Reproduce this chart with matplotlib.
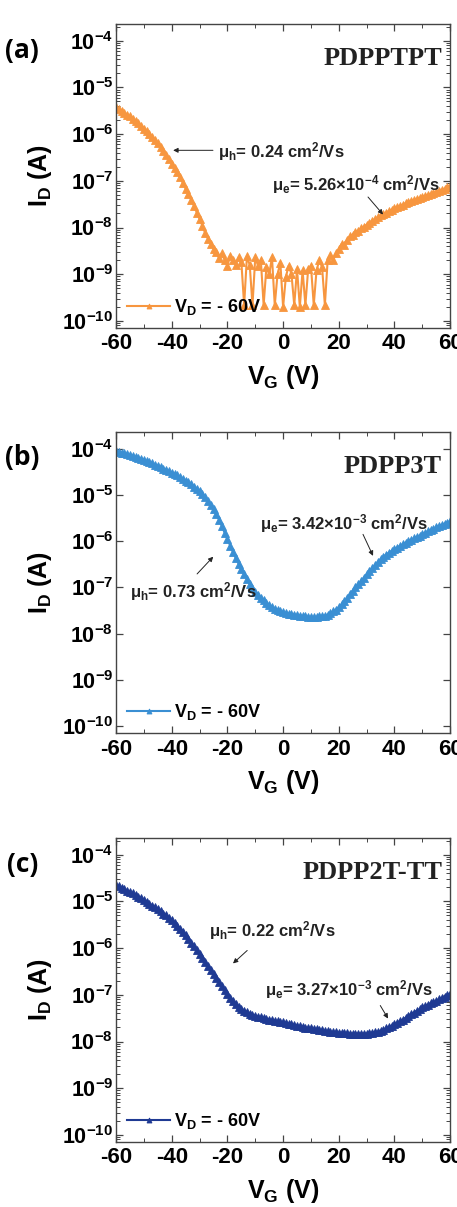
import numpy as np
import matplotlib
matplotlib.use("Agg")
import matplotlib.pyplot as plt
from matplotlib.ticker import LogLocator, MultipleLocator, NullFormatter

plt.rcParams['font.family'] = ['Liberation Sans', 'DejaVu Sans']
plt.rcParams['font.weight'] = 'bold'
plt.rcParams['axes.labelweight'] = 'bold'
plt.rcParams['axes.unicode_minus'] = False
plt.rcParams['mathtext.default'] = 'regular'

# gate voltage sweep, 1 V steps
vg = np.arange(-60, 61, 1)

# log10(I_D / A)
logI_a = [-5.42, -5.47, -5.51, -5.55, -5.59, -5.62, -5.68, -5.72, -5.77, -5.82,
          -5.88, -5.94, -6.00, -6.07, -6.13, -6.20, -6.28, -6.36, -6.44, -6.54,
          -6.63, -6.72, -6.82, -6.92, -7.05, -7.17, -7.28, -7.41, -7.54, -7.68,
          -7.82, -7.96, -8.12, -8.24, -8.35, -8.46, -8.52, -8.66, -8.55, -8.70,
          -8.82, -8.60, -8.70, -8.80, -8.64, -8.74, -9.66, -8.62, -8.80, -9.66,
          -8.64, -8.82, -8.70, -9.66, -8.85, -9.00, -8.64, -9.66, -9.00, -8.75,
          -9.70, -9.05, -8.82, -9.00, -9.66, -8.89, -9.70, -8.92, -9.66, -8.89,
          -8.82, -9.66, -8.92, -8.70, -8.85, -9.66, -8.70, -8.59, -8.70, -8.55,
          -8.46, -8.35, -8.38, -8.26, -8.19, -8.15, -8.10, -8.07, -8.02, -7.98,
          -7.94, -7.90, -7.85, -7.82, -7.78, -7.74, -7.71, -7.68, -7.65, -7.62,
          -7.59, -7.56, -7.54, -7.51, -7.48, -7.46, -7.43, -7.41, -7.39, -7.37,
          -7.34, -7.32, -7.30, -7.28, -7.26, -7.24, -7.21, -7.19, -7.17, -7.14,
          -7.12]

logI_b = [-4.05, -4.07, -4.09, -4.10, -4.12, -4.14, -4.16, -4.18, -4.20, -4.22,
          -4.24, -4.27, -4.29, -4.32, -4.35, -4.37, -4.40, -4.43, -4.46, -4.49,
          -4.52, -4.55, -4.58, -4.62, -4.65, -4.69, -4.73, -4.77, -4.82, -4.87,
          -4.92, -4.98, -5.05, -5.13, -5.22, -5.31, -5.42, -5.54, -5.68, -5.82,
          -5.96, -6.10, -6.24, -6.37, -6.49, -6.60, -6.71, -6.82, -6.92, -7.01,
          -7.10, -7.16, -7.22, -7.28, -7.34, -7.39, -7.43, -7.46, -7.49, -7.52,
          -7.54, -7.56, -7.57, -7.58, -7.59, -7.60, -7.61, -7.62, -7.63, -7.64,
          -7.64, -7.64, -7.64, -7.63, -7.62, -7.61, -7.59, -7.56, -7.52, -7.48,
          -7.43, -7.37, -7.30, -7.23, -7.15, -7.07, -7.00, -6.93, -6.86, -6.79,
          -6.72, -6.65, -6.58, -6.52, -6.45, -6.39, -6.34, -6.29, -6.25, -6.21,
          -6.17, -6.14, -6.10, -6.07, -6.03, -6.00, -5.97, -5.94, -5.91, -5.88,
          -5.85, -5.82, -5.79, -5.76, -5.73, -5.70, -5.67, -5.65, -5.62, -5.60,
          -5.57]

logI_c = [-4.65, -4.68, -4.71, -4.74, -4.77, -4.80, -4.83, -4.87, -4.90, -4.93,
          -4.97, -5.01, -5.05, -5.09, -5.13, -5.17, -5.21, -5.26, -5.30, -5.35,
          -5.40, -5.46, -5.52, -5.58, -5.65, -5.72, -5.80, -5.88, -5.96, -6.04,
          -6.12, -6.21, -6.29, -6.38, -6.46, -6.55, -6.64, -6.72, -6.81, -6.90,
          -6.98, -7.06, -7.13, -7.20, -7.25, -7.30, -7.34, -7.37, -7.40, -7.43,
          -7.45, -7.47, -7.48, -7.50, -7.51, -7.53, -7.54, -7.55, -7.57, -7.58,
          -7.59, -7.60, -7.62, -7.63, -7.64, -7.66, -7.67, -7.68, -7.70, -7.71,
          -7.72, -7.73, -7.74, -7.75, -7.76, -7.77, -7.78, -7.79, -7.80, -7.80,
          -7.81, -7.81, -7.82, -7.82, -7.83, -7.83, -7.83, -7.83, -7.83, -7.83,
          -7.83, -7.82, -7.81, -7.80, -7.79, -7.77, -7.75, -7.72, -7.69, -7.66,
          -7.63, -7.60, -7.56, -7.53, -7.49, -7.45, -7.41, -7.38, -7.34, -7.31,
          -7.27, -7.24, -7.21, -7.18, -7.16, -7.13, -7.10, -7.07, -7.04, -7.00,
          -6.98]

letters = ['(a)', '(b)', '(c)']
polymers = ['PDPPTPT', 'PDPP3T', 'PDPP2T-TT']
colors = ['#F7963F', '#3A8FD3', '#1F3A93']

# mobility labels: (text, text pos, arrow tail, arrow head) in data units
notes_a = [('μ$_h$= 0.24 cm$^2$/Vs', (-23.4, 4.3e-7), (-25.2, 4.5e-7), (-39.5, 4.5e-7)),
           ('μ$_e$= 5.26×10$^{-4}$ cm$^2$/Vs', (-4.0, 8.5e-8), (30.5, 4.5e-8), (35.9, 1.9e-8))]
notes_b = [('μ$_e$= 3.42×10$^{-3}$ cm$^2$/Vs', (-8.3, 2.45e-6), (28.7, 1.4e-6), (32.3, 4.8e-7)),
           ('μ$_h$= 0.73 cm$^2$/Vs', (-55.0, 8.3e-8), (-30.9, 1.95e-7), (-25.1, 4.6e-7))]
notes_c = [('μ$_h$= 0.22 cm$^2$/Vs', (-26.6, 2.4e-6), (-12.9, 8.9e-7), (-18.0, 4.7e-7)),
           ('μ$_e$= 3.27×10$^{-3}$ cm$^2$/Vs', (-6.5, 1.3e-7), (34.9, 5.9e-8), (37.7, 3.1e-8))]

fig = plt.figure(figsize=(4.57, 12.07), dpi=100)
boxes = [[0.254, 0.7283, 0.731, 0.2519],
         [0.254, 0.3927, 0.731, 0.2494],
         [0.254, 0.0539, 0.731, 0.2519]]

for box, logI, col, letter, name, notes in zip(boxes, [logI_a, logI_b, logI_c], colors,
                                                letters, polymers, [notes_a, notes_b, notes_c]):
    ax = fig.add_axes(box)
    ax.semilogy(vg, 10.0 ** np.array(logI), color=col, lw=1.5, marker='^', ms=6,
                mew=0.6, label='V$_D$ = - 60V')
    ax.set_xlim(-60, 60)
    ax.set_ylim(10 ** -10.15, 10 ** -3.64)
    ax.set_xticks([-60, -40, -20, 0, 20, 40, 60])
    ax.xaxis.set_minor_locator(MultipleLocator(10))
    ax.set_yticks([1e-4, 1e-5, 1e-6, 1e-7, 1e-8, 1e-9, 1e-10])
    ax.yaxis.set_minor_locator(LogLocator(base=10, subs=np.arange(2, 10)))
    ax.yaxis.set_minor_formatter(NullFormatter())
    ax.tick_params(which='both', direction='in', top=True, right=True,
                   color='#444444')
    ax.tick_params(axis='x', labelsize=16, pad=4)
    ax.tick_params(axis='y', labelsize=15.5, pad=2)
    ax.tick_params(which='major', length=5, width=0.9)
    ax.tick_params(which='minor', length=3, width=0.7)
    for s in ax.spines.values():
        s.set_color('#444444')
        s.set_linewidth(1.0)
    ax.set_ylabel('I$_D$ (A)', fontsize=18)
    ax.set_xlabel('V$_G$ (V)', fontsize=18)
    ax.yaxis.set_label_coords(-0.185, 0.5)
    ax.xaxis.set_label_coords(0.5, -0.115)

    ax.text(-0.281, 0.914, letter, transform=ax.transAxes, fontsize=19,
            family='Open Sans', fontweight='bold', ha='center', va='center')
    ax.text(0.976, 0.885, name, transform=ax.transAxes, fontsize=19,
            family='Liberation Serif', fontweight='bold', ha='right', va='center',
            color='#222222')
    for txt, pos, tail, head in notes:
        ax.text(pos[0], pos[1], txt, fontsize=12, ha='left', va='center', color='#222222')
        ax.annotate('', xy=head, xytext=tail,
                    arrowprops=dict(arrowstyle='-|>', color='#222222', lw=0.7,
                                    mutation_scale=7, shrinkA=0, shrinkB=0))
    ax.legend(loc='lower left', frameon=False, fontsize=13, numpoints=1,
              markerscale=0.6, handlelength=2.4, handletextpad=0.2,
              borderaxespad=0.3, borderpad=0.3)

fig.savefig('out.png', dpi=100)
